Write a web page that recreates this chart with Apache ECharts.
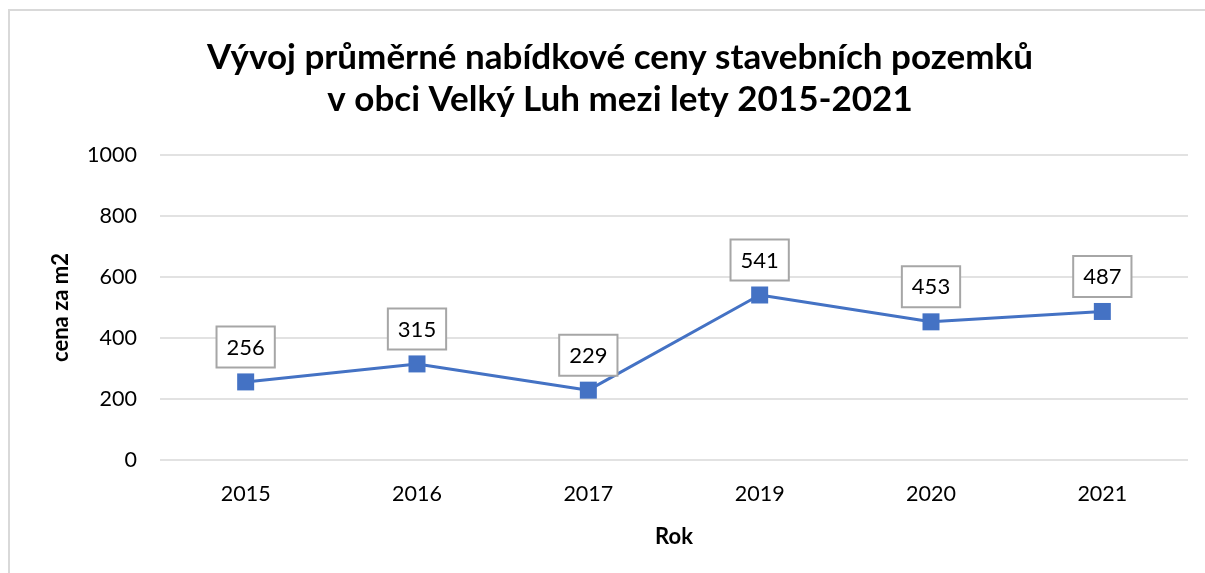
<!DOCTYPE html>
<html>
<head>
<meta charset="utf-8">
<script src="https://cdn.jsdelivr.net/npm/echarts@6/dist/echarts.min.js"></script>
<style>
html,body{margin:0;padding:0;background:#fff;overflow:hidden;}
#frame{position:absolute;left:8px;top:9px;width:1220px;height:600px;border:2px solid #d9d9d9;box-sizing:border-box;}
#chart{position:absolute;left:0;top:0;width:1205px;height:573px;}
</style>
</head>
<body>
<div id="frame"></div>
<div id="chart"></div>
<script>
const categories = ['2015', '2016', '2017', '2019', '2020', '2021'];
const prices = [256, 315, 229, 541, 453, 487];
const yTicks = { min: 0, max: 1000, interval: 200 };
const titleText = 'Vývoj průměrné nabídkové ceny stavebních pozemků\nv obci Velký Luh mezi lety 2015-2021';
const xName = 'Rok';
const yName = 'cena za m2';

const FONT = 'Lato, "Open Sans", sans-serif';
const chart = echarts.init(document.getElementById('chart'), null, { renderer: 'canvas' });
chart.setOption({
  backgroundColor: 'transparent',
  animation: false,
  title: {
    text: titleText,
    left: 615,
    textAlign: 'center',
    top: 32,
    textStyle: { fontFamily: FONT, fontWeight: 'bold', fontSize: 35, color: '#000', lineHeight: 42 }
  },
  grid: { left: 160, right: 17, top: 155, bottom: 113, containLabel: false },
  xAxis: {
    type: 'category',
    data: categories,
    boundaryGap: true,
    axisLine: { show: false },
    axisTick: { show: false },
    axisLabel: { fontFamily: FONT, fontSize: 21.5, color: '#000', margin: 23 },
    name: xName,
    nameLocation: 'middle',
    nameGap: 66,
    nameTextStyle: { fontFamily: FONT, fontWeight: 'bold', fontSize: 22, color: '#000' }
  },
  yAxis: {
    type: 'value',
    min: yTicks.min, max: yTicks.max, interval: yTicks.interval,
    axisLine: { show: false },
    axisTick: { show: false },
    axisLabel: { fontFamily: FONT, fontSize: 21.5, color: '#000', margin: 23, formatter: function (v) { return String(v); } },
    splitLine: { lineStyle: { color: '#d9d9d9', width: 1.5 } },
    name: yName,
    nameLocation: 'middle',
    nameGap: 88,
    nameRotate: 90,
    nameTextStyle: { fontFamily: FONT, fontWeight: 'bold', fontSize: 22, color: '#000' }
  },
  series: [{
    type: 'line',
    data: prices,
    symbol: 'rect',
    symbolSize: 17,
    lineStyle: { color: '#4472C4', width: 3 },
    itemStyle: { color: '#4472C4' },
    label: {
      show: true,
      position: 'top',
      distance: 7,
      fontFamily: FONT,
      fontSize: 22,
      color: '#000',
      backgroundColor: '#fff',
      borderColor: '#a6a6a6',
      borderWidth: 2,
      padding: [9, 9, 8, 9]
    }
  }]
});
</script>
</body>
</html>
